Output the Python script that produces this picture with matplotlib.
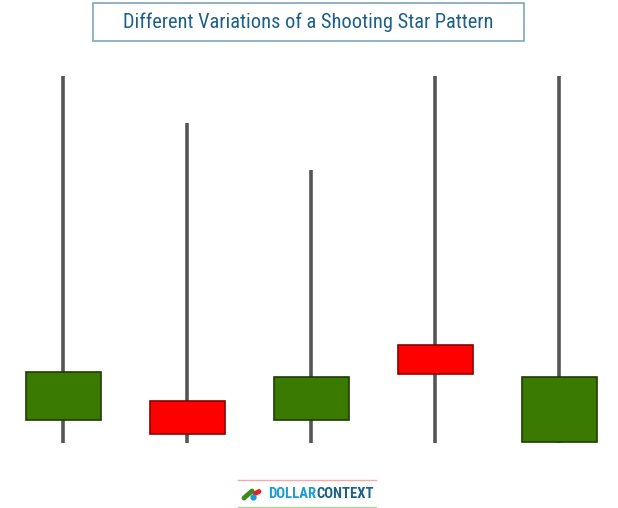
import matplotlib
matplotlib.use("Agg")
import matplotlib.pyplot as plt
from matplotlib.patches import Rectangle
from matplotlib import font_manager

labels = ["Candle 1", "Candle 2", "Candle 3", "Candle 4", "Candle 5"]
opens = [23, 42, 23, 98, 1]
closes = [71, 9, 66, 69, 66]
highs = [367, 320, 273, 367, 367]
lows = [0, 0, 0, 0, 0]

title = "Different Variations of a Shooting Star Pattern"

# pick a condensed font if one exists
cands = ["Roboto Condensed", "Open Sans Condensed", "Liberation Sans Narrow",
         "DejaVu Sans Condensed"]
names = {f.name for f in font_manager.fontManager.ttflist}
family = next((c for c in cands if c in names), None)
stretch = "normal"
if family is None:
    cond = [f for f in font_manager.fontManager.ttflist
            if isinstance(f.stretch, str) and "condensed" in f.stretch.lower()
            or (isinstance(f.stretch, int) and f.stretch < 500)]
    if cond:
        family = cond[0].name
        stretch = cond[0].stretch
    else:
        family = "Roboto" if "Roboto" in names else "DejaVu Sans"

W, H = 618, 508
fig = plt.figure(figsize=(W / 100, H / 100), dpi=100)
ax = fig.add_axes([0, 0, 1, 1])
ax.set_xlim(-63 / 124, (W - 63) / 124)
ax.set_ylim(443 - H, 443)
ax.axis("off")

body_w = 75 / 124
for i, (o, c, h, l) in enumerate(zip(opens, closes, highs, lows)):
    ax.plot([i, i], [l, h], color="#555555", lw=2.6, zorder=1, solid_capstyle="butt")
    up = c >= o
    face = "#3a7a00" if up else "#ff0000"
    edge = "#1e3d00" if up else "#8b0000"
    ax.add_patch(Rectangle((i - body_w / 2, min(o, c)), body_w, abs(c - o),
                           facecolor=face, edgecolor=edge, lw=1.2, zorder=2))

renderer = fig.canvas.get_renderer()


def fit_text(x, y, s, width_px, size, **kw):
    t = fig.text(x / W, 1 - y / H, s, fontsize=size, family=family,
                 fontstretch=stretch, **kw)
    w = t.get_window_extent(renderer).width
    if w > width_px:
        t.set_fontsize(size * width_px / w)
    return t


# Title box
fig.patches.append(Rectangle((93 / W, 1 - 41 / H), (524 - 93) / W, 38 / H,
                             transform=fig.transFigure, facecolor="white",
                             edgecolor="#7ea7bd", lw=1.2))
fit_text(308.5, 22, title, 370, 16, ha="center", va="center", color="#1d6088")

# Logo
fig.add_artist(plt.Line2D([238 / W, 376 / W], [1 - 480 / H, 1 - 480 / H],
                          color="#f2aaaa", lw=1, transform=fig.transFigure))
fig.add_artist(plt.Line2D([238 / W, 376 / W], [1 - 506.5 / H, 1 - 506.5 / H],
                          color="#a8d89a", lw=1, transform=fig.transFigure))
fig.add_artist(plt.Line2D([244 / W, 252 / W], [1 - 498 / H, 1 - 491 / H],
                          color="#3f8a1e", lw=3.5, solid_capstyle="round",
                          transform=fig.transFigure))
fig.add_artist(plt.Line2D([255 / W, 259 / W], [1 - 493.5 / H, 1 - 491.5 / H],
                          color="#e52521", lw=3.5, solid_capstyle="round",
                          transform=fig.transFigure))
fig.add_artist(plt.Line2D([252.5 / W], [1 - 497 / H], marker="o", ms=3.5,
                          color="#1a9bd7", transform=fig.transFigure))

# fit the whole word to the logo width, then split in two colours
probe = fit_text(268, 494.5, "DOLLARCONTEXT", 105, 11, ha="left", va="center",
                 fontweight="bold")
size = probe.get_fontsize()
probe.remove()
t1 = fig.text(268 / W, 1 - 494.5 / H, "DOLLAR", fontsize=size, family=family,
              fontstretch=stretch, ha="left", va="center", color="#1a9bd7",
              fontweight="bold")
w1 = t1.get_window_extent(renderer).width
fig.text((268 + w1) / W, 1 - 494.5 / H, "CONTEXT", fontsize=size, family=family,
         fontstretch=stretch, ha="left", va="center", color="#1d6088",
         fontweight="bold")

fig.savefig("out.png", dpi=100, facecolor="white")
